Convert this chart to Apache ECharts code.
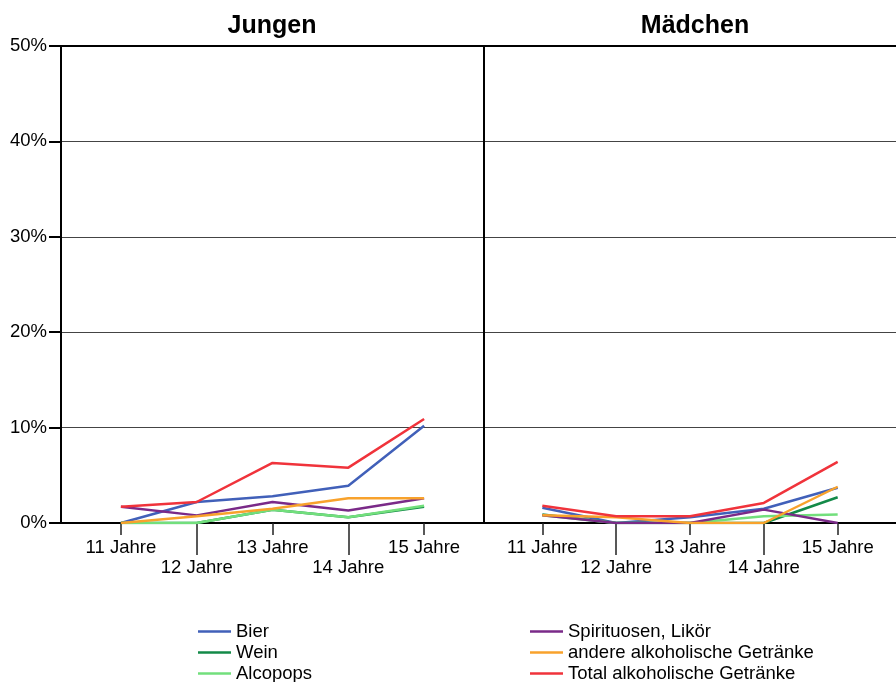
<!DOCTYPE html>
<html>
<head>
<meta charset="utf-8">
<script src="https://cdn.jsdelivr.net/npm/echarts@6/dist/echarts.min.js"></script>
<style>
  html, body { margin: 0; padding: 0; background: #fff; }
  #chart { width: 896px; height: 682px; }
</style>
</head>
<body>
<div id="chart"></div>
<script>
const jahre = ["11 Jahre", "12 Jahre", "13 Jahre", "14 Jahre", "15 Jahre"];

// Jungen (%)
const bierJ = [0, 2.2, 2.8, 3.9, 10.2];
const weinJ = [0, 0, 1.4, 0.6, 1.7];
const alcoJ = [0, 0, 1.4, 0.6, 1.8];
const spiritJ = [1.7, 0.8, 2.2, 1.3, 2.6];
const andereJ = [0, 0.7, 1.5, 2.6, 2.6];
const totalJ = [1.7, 2.2, 6.3, 5.8, 10.9];

// Mädchen (%)
const bierM = [1.6, 0, 0.6, 1.5, 3.7];
const weinM = [0.9, 0, 0, 0, 2.7];
const alcoM = [0.8, 0, 0, 0.7, 0.9];
const spiritM = [0.8, 0, 0, 1.4, 0];
const andereM = [0.8, 0.6, 0, 0, 3.8];
const totalM = [1.8, 0.7, 0.7, 2.1, 6.4];

const names = ["Bier", "Wein", "Alcopops", "Spirituosen, Likör", "andere alkoholische Getränke", "Total alkoholische Getränke"];
const colors = ["#4160b9", "#138a48", "#72df7c", "#7a2a88", "#f8a22c", "#f0333b"];
const jungen = [bierJ, weinJ, alcoJ, spiritJ, andereJ, totalJ];
const maedchen = [bierM, weinM, alcoM, spiritM, andereM, totalM];

const font = "Liberation Sans, Arial, sans-serif";
const fs = 18.5;

function xAxes(grid) {
  const base = {
    type: "value",
    gridIndex: grid,
    min: -0.79,
    max: 4.79,
    splitLine: { show: false },
  };
  return [
    {
      ...base,
      position: "bottom",
      axisLine: { show: true, onZero: false, lineStyle: { color: "#000", width: 2 } },
      axisTick: { show: true, customValues: [0, 2, 4], length: 12, lineStyle: { color: "#222", width: 1.5 } },
      axisLabel: {
        customValues: [0, 2, 4],
        formatter: (v) => jahre[v],
        margin: 15,
        fontSize: fs,
        fontFamily: font,
        color: "#000",
      },
    },
    {
      ...base,
      position: "bottom",
      axisLine: { show: false, onZero: false },
      axisTick: { show: true, customValues: [1, 3], length: 32, lineStyle: { color: "#222", width: 1.5 } },
      axisLabel: {
        customValues: [1, 3],
        formatter: (v) => jahre[v],
        margin: 35,
        fontSize: fs,
        fontFamily: font,
        color: "#000",
      },
    },
    {
      ...base,
      position: "top",
      axisLine: { show: true, onZero: false, lineStyle: { color: "#000", width: 2 } },
      axisTick: { show: false },
      axisLabel: { show: false },
    },
  ];
}

function yAxis(grid, labels) {
  return {
    type: "value",
    gridIndex: grid,
    position: "left",
    min: 0,
    max: 50,
    interval: 10,
    axisLine: { show: true, onZero: false, lineStyle: { color: "#000", width: 2 } },
    axisTick: { show: labels, length: 12, lineStyle: { color: "#000", width: 2 } },
    axisLabel: {
      show: labels,
      formatter: "{value}%",
      margin: 14,
      fontSize: fs,
      fontFamily: font,
      color: "#000",
    },
    splitLine: { show: true, lineStyle: { color: "#444", width: 1 } },
  };
}

function seriesFor(data, grid) {
  return data.map((vals, i) => ({
    name: names[i],
    type: "line",
    xAxisIndex: grid * 3,
    yAxisIndex: grid,
    data: vals.map((v, k) => [k, v]),
    symbol: "none",
    color: colors[i],
    lineStyle: { width: 2.5, color: colors[i] },
    silent: true,
    animation: false,
  }));
}

const legendBase = {
  orient: "vertical",
  top: 622,
  padding: 0,
  height: 70,
  itemGap: 2,
  itemWidth: 33,
  itemHeight: 2.5,
  icon: "rect",
  selectedMode: false,
  textStyle: { fontSize: fs, lineHeight: 18.5, fontFamily: font, color: "#000" },
};

const option = {
  animation: false,
  backgroundColor: "#fff",
  title: [
    { text: "Jungen", left: 267, top: 9, textAlign: "center",
      textStyle: { fontSize: 25, fontWeight: "bold", fontFamily: font, color: "#000" } },
    { text: "Mädchen", left: 690, top: 9, textAlign: "center",
      textStyle: { fontSize: 25, fontWeight: "bold", fontFamily: font, color: "#000" } },
  ],
  legend: [
    { ...legendBase, left: 198, data: names.slice(0, 3) },
    { ...legendBase, left: 530, data: names.slice(3) },
  ],
  grid: [
    { left: 61, top: 46, width: 423, height: 477 },
    { left: 484, top: 46, width: 423, height: 477 },
  ],
  xAxis: [...xAxes(0), ...xAxes(1)],
  yAxis: [yAxis(0, true), yAxis(1, false)],
  series: [...seriesFor(jungen, 0), ...seriesFor(maedchen, 1)],
};

const chart = echarts.init(document.getElementById("chart"));
chart.setOption(option);
</script>
</body>
</html>
